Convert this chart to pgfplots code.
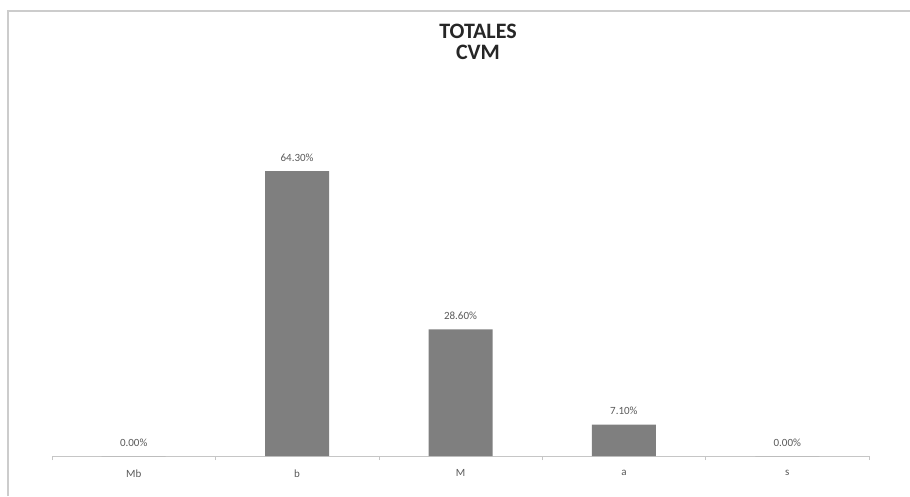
\documentclass[border=0pt]{standalone}
\usepackage{pgfplots}
\pgfplotsset{compat=1.18}
\usepackage{fontspec}
\setmainfont{Carlito}
\definecolor{barc}{HTML}{7F7F7F}
\definecolor{txtc}{HTML}{595959}
\begin{document}
\begin{tikzpicture}[x=1pt,y=1pt]
\begin{axis}[
  scale only axis, width=817pt, height=357pt,
  xmin=-0.5, xmax=4.5, ymin=0, ymax=80.6,
  axis y line=none, axis x line=bottom,
  axis line style={draw=gray!45, line width=0.8pt, -},
  xtick={0,1,2,3,4},
  xticklabels={Mb,b,M,a,s},
  major x tick style={draw=none},
  minor xtick={-0.5,0.5,1.5,2.5,3.5,4.5},
  minor x tick style={draw=gray!45, line width=0.6pt},
  minor tick length=4pt,
  tick align=outside,
  xticklabel style={font=\fontsize{11}{12}\selectfont, text=txtc, yshift=-6pt},
  /pgf/number format/assume math mode=true,
  ybar, bar width=64pt, bar shift=0pt,
  nodes near coords={\pgfmathprintnumber[fixed,fixed zerofill,precision=2]{\pgfplotspointmeta}\%},
  nodes near coords style={font=\fontsize{11}{12}\selectfont, text=txtc, anchor=south, yshift=6pt},
  clip=false,
]
\coordinate (O) at (axis cs:-0.5,0);
\addplot[fill=barc, draw=none] coordinates {(0,0) (1,64.3) (2,28.6) (3,7.1) (4,0)};
\end{axis}
\pgfresetboundingbox
\useasboundingbox ([shift={(-52pt,-40pt)}]O) coordinate (BL) rectangle ++(910pt,496pt) coordinate (TR);
\begin{scope}[shift={(BL)}]
\begin{pgfonlayer}{main}
\end{pgfonlayer}
\draw[gray!40, line width=1.5pt] (8,0) -- (8,485) -- (910,485);
\node[font=\bfseries\fontsize{22}{21}\selectfont, text=black!85, align=center] at (478,454) {TOTALES\\CVM};
\end{scope}
\end{tikzpicture}
\end{document}
